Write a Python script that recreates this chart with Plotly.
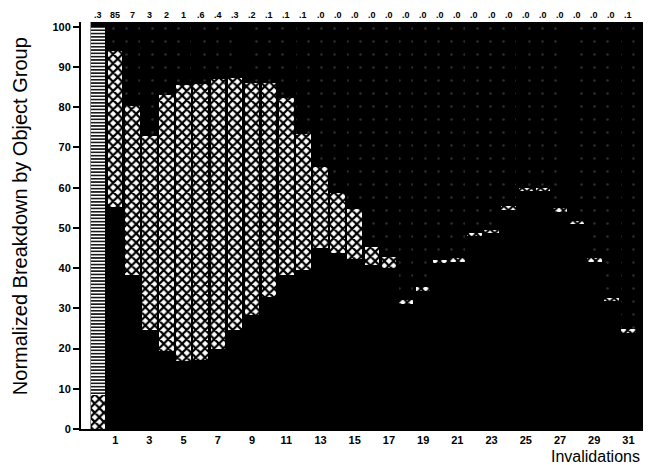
import plotly.graph_objects as go

# ---- data ----
invalidations = list(range(0, 32))
top_labels = [".3", "85", "7", "3", "2", "1", ".6", ".4", ".3", ".2", ".1", ".1", ".1",
              ".0", ".0", ".0", ".0", ".0", ".0", ".0", ".0", ".0", ".0", ".0", ".0",
              ".0", ".0", ".0", ".0", ".0", ".0", ".1"]

# solid black group (bottom)
group_solid = [0, 55.3, 38.3, 24.6, 19.5, 16.9, 17.2, 19.8, 24.5, 28.4, 32.9, 38.3, 39.6,
               44.9, 43.7, 42.2, 40.8, 40.0, 31.0, 34.2, 41.2, 41.6, 48.0, 48.8, 54.5,
               59.2, 59.2, 54.0, 50.9, 41.6, 31.8, 23.8]
# cross-hatched group (middle)
group_hatch = [8.4, 38.6, 42.1, 48.3, 63.6, 68.7, 68.6, 67.3, 62.7, 57.7, 53.2, 44.0, 33.8,
               20.3, 14.9, 12.4, 4.5, 2.7, 1.2, 1.0, 0.8, 0.8, 0.8, 0.8, 1.0,
               0.8, 0.8, 1.0, 0.8, 1.0, 0.8, 1.0]
# horizontally striped group (only in bar 0)
group_striped = [91.6] + [0] * 31
# dark dotted group (top) = remainder
group_dotted = [max(0.0, 100 - s - h - st) for s, h, st in zip(group_solid, group_hatch, group_striped)]

x_ticks = list(range(1, 32, 2))
y_ticks = list(range(0, 101, 10))

FONT = "Liberation Sans, Arial, sans-serif"

fig = go.Figure()
fig.add_trace(go.Bar(x=invalidations, y=group_solid, marker=dict(color="black", line=dict(width=0)),
                     hoverinfo="skip", showlegend=False))
fig.add_trace(go.Bar(x=invalidations, y=group_hatch,
                     marker=dict(color="white", line=dict(width=0),
                                 pattern=dict(shape="x", fgcolor="black", bgcolor="white",
                                              size=6.5, solidity=0.55, fillmode="replace")),
                     hoverinfo="skip", showlegend=False))
fig.add_trace(go.Bar(x=invalidations, y=group_striped,
                     marker=dict(color="white", line=dict(width=0),
                                 pattern=dict(shape="-", fgcolor="black", bgcolor="white",
                                              size=3.3, solidity=0.45, fillmode="replace")),
                     hoverinfo="skip", showlegend=False))
fig.add_trace(go.Bar(x=invalidations, y=group_dotted,
                     marker=dict(color="black", line=dict(width=0),
                                 pattern=dict(shape=".", fgcolor="#2e2e2e", bgcolor="black",
                                              size=13, solidity=0.03, fillmode="replace")),
                     hoverinfo="skip", showlegend=False))

# labels above bars
for xv, lab in zip(invalidations, top_labels):
    fig.add_annotation(x=xv, y=1.0, xref="x", yref="paper", yanchor="bottom", yshift=0,
                       text=f"<b>{lab}</b>", showarrow=False,
                       font=dict(family=FONT, size=9, color="black"))

fig.add_annotation(x=1.0, y=0, xref="paper", yref="paper", xanchor="right", yanchor="top",
                   yshift=-17, xshift=-1, text="Invalidations", showarrow=False,
                   font=dict(family=FONT, size=16, color="black"))

fig.add_annotation(x=0, y=0.523, xref="paper", yref="paper", xanchor="center", yanchor="middle",
                   xshift=-61, textangle=-90, text="Normalized Breakdown by Object Group",
                   showarrow=False, font=dict(family=FONT, size=20, color="black"))

# white strip between the y axis and bar 0
fig.add_shape(type="rect", xref="x", yref="paper", x0=-1.0, x1=-0.44, y0=0, y1=1,
              fillcolor="white", line=dict(width=0), layer="below")

fig.update_layout(
    barmode="stack", bargap=0.15,
    width=654, height=465,
    margin=dict(l=81, r=11, t=22, b=36),
    paper_bgcolor="white", plot_bgcolor="black",
    font=dict(family=FONT, color="black"),
    xaxis=dict(range=[-1.0, 31.85], tickmode="array", tickvals=x_ticks,
               ticktext=[f"<b>{t}</b>" for t in x_ticks], ticks="", showgrid=False,
               zeroline=False, showline=True, linecolor="black", linewidth=2,
               tickfont=dict(size=11, family=FONT)),
    yaxis=dict(range=[0, 101.2], tickmode="array", tickvals=y_ticks,
               ticktext=[f"<b>{t}</b>" for t in y_ticks], ticks="outside", ticklen=6,
               tickwidth=2, tickcolor="black", showgrid=False, zeroline=False,
               showline=True, linecolor="black", linewidth=2,
               tickfont=dict(size=11, family=FONT)),
)

fig.write_html("out.html")
